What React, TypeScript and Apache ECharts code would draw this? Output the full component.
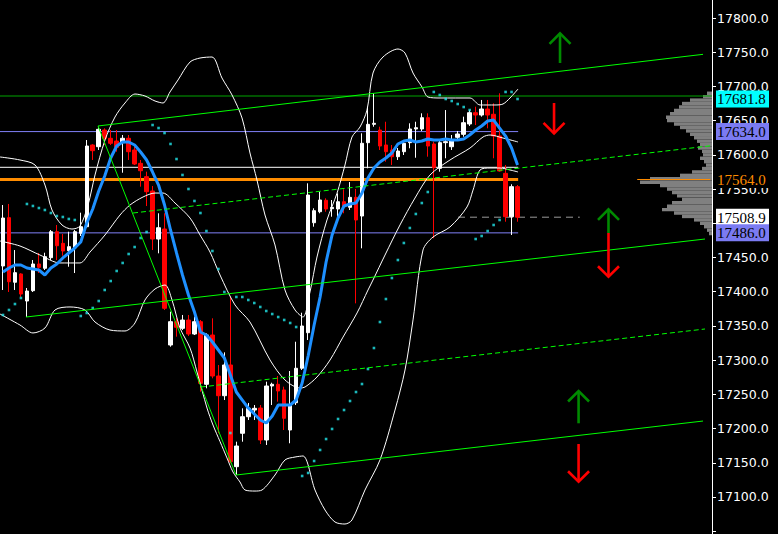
import React, { useEffect, useRef } from "react";
import * as echarts from "echarts";

// ---------- data ----------
const slotCount = 119; // 87 bars + empty future slots

// [open, close, low, high]
const candles: number[][] = [
  [17437.6, 17507.7, 17402.5, 17526.7], [17508.2, 17414.6, 17399.6, 17528.2], [17413.8, 17427.8, 17402.5, 17460.9],
  [17425.9, 17396.6, 17392.3, 17427.0], [17386.4, 17401.0, 17363.0, 17405.4], [17401.5, 17440.5, 17399.6, 17446.3],
  [17440.5, 17435.6, 17427.3, 17456.6], [17434.2, 17451.2, 17431.7, 17457.0], [17449.7, 17487.7, 17446.3, 17490.2],
  [17487.7, 17467.2, 17446.3, 17497.5], [17470.7, 17459.5, 17452.6, 17484.3], [17459.9, 17465.8, 17436.5, 17487.7],
  [17464.3, 17487.7, 17427.3, 17490.2], [17485.3, 17495.0, 17481.4, 17515.5], [17495.0, 17612.9, 17493.1, 17621.7],
  [17614.4, 17606.1, 17592.5, 17615.5], [17611.9, 17637.3, 17607.1, 17641.1], [17636.3, 17624.2, 17614.4, 17638.8],
  [17624.2, 17616.9, 17614.4, 17636.3], [17620.2, 17611.0, 17604.6, 17636.3], [17617.8, 17624.2, 17573.9, 17629.0],
  [17624.2, 17604.6, 17592.5, 17629.0], [17607.1, 17586.6, 17585.2, 17611.9], [17587.6, 17576.8, 17553.5, 17592.5],
  [17568.1, 17546.1, 17525.2, 17575.4], [17547.2, 17477.0, 17460.9, 17554.5], [17477.0, 17493.5, 17456.1, 17514.6],
  [17491.6, 17375.8, 17373.3, 17514.6], [17322.1, 17356.2, 17319.6, 17370.8], [17356.2, 17348.0, 17334.3, 17361.6],
  [17346.5, 17358.6, 17344.0, 17366.0], [17358.6, 17338.2, 17335.3, 17366.0], [17338.2, 17356.2, 17336.7, 17363.5],
  [17356.2, 17266.1, 17253.9, 17358.6], [17264.7, 17336.7, 17258.8, 17339.2], [17336.7, 17276.8, 17273.4, 17361.1],
  [17276.8, 17248.0, 17193.1, 17292.9], [17248.0, 17292.9, 17241.7, 17311.4], [17292.9, 17151.6, 17149.2, 17392.7],
  [17144.3, 17174.5, 17132.1, 17180.8], [17193.1, 17217.3, 17180.8, 17229.6], [17217.3, 17229.6, 17212.5, 17237.4],
  [17227.1, 17229.6, 17212.5, 17234.4], [17230.0, 17183.3, 17177.4, 17234.4], [17183.3, 17262.2, 17176.0, 17268.5],
  [17262.2, 17264.7, 17234.4, 17267.0], [17264.7, 17254.9, 17239.3, 17276.8], [17256.4, 17215.0, 17197.9, 17261.2],
  [17197.9, 17234.4, 17178.5, 17284.1], [17237.8, 17288.1, 17234.4, 17326.9], [17288.1, 17349.9, 17285.6, 17369.3],
  [17340.1, 17541.3, 17329.4, 17558.4], [17500.8, 17518.4, 17495.0, 17521.9], [17516.9, 17534.0, 17514.6, 17546.2],
  [17533.6, 17520.9, 17516.9, 17536.5], [17521.3, 17523.3, 17509.6, 17534.0], [17520.9, 17531.5, 17507.3, 17543.8],
  [17531.5, 17524.2, 17514.6, 17549.7], [17523.3, 17537.9, 17519.4, 17560.3], [17537.9, 17504.8, 17383.0, 17550.1],
  [17510.6, 17616.9, 17463.4, 17631.5], [17617.8, 17644.6, 17580.3, 17670.4], [17644.6, 17646.1, 17641.1, 17690.0],
  [17636.3, 17612.9, 17607.1, 17641.1], [17614.4, 17604.6, 17590.0, 17648.4], [17607.1, 17597.3, 17585.2, 17614.4],
  [17597.3, 17605.6, 17592.5, 17610.0], [17604.6, 17616.9, 17599.8, 17621.7], [17617.8, 17637.8, 17609.6, 17646.1],
  [17637.8, 17639.7, 17595.8, 17648.4], [17637.8, 17654.3, 17634.9, 17660.7], [17654.3, 17612.9, 17597.3, 17660.7],
  [17615.9, 17581.2, 17478.1, 17619.2], [17580.3, 17617.8, 17575.4, 17621.7], [17617.8, 17619.2, 17595.0, 17665.5],
  [17611.9, 17621.7, 17607.1, 17629.0], [17625.6, 17630.5, 17621.7, 17634.9], [17630.0, 17647.0, 17626.5, 17655.8],
  [17645.1, 17661.6, 17642.2, 17665.5], [17661.6, 17658.2, 17643.6, 17670.4], [17658.2, 17667.0, 17655.8, 17680.2],
  [17667.0, 17658.2, 17638.8, 17680.2], [17659.3, 17627.6, 17595.0, 17675.3], [17627.6, 17576.4, 17575.4, 17690.0],
  [17573.0, 17509.6, 17502.3, 17585.2], [17509.6, 17553.5, 17482.9, 17557.0], [17553.5, 17508.9, 17502.3, 17555.9],
];

const maValues: number[] = [
  17428.8, 17434.6, 17439.0, 17439.0, 17434.6, 17433.2, 17431.7, 17424.4, 17434.6, 17440.5,
  17449.3, 17456.6, 17463.9, 17472.6, 17500.4, 17520.9, 17547.2, 17569.1, 17595.4, 17612.9,
  17618.8, 17618.8, 17614.4, 17604.2, 17592.5, 17574.9, 17555.9, 17526.7, 17490.2, 17456.6,
  17424.4, 17395.2, 17370.3, 17341.1, 17336.7, 17326.5, 17314.8, 17303.1, 17278.3, 17253.4,
  17241.7, 17230.0, 17221.3, 17212.5, 17208.1, 17218.4, 17234.4, 17234.4, 17234.4, 17241.7,
  17266.6, 17306.0, 17351.3, 17392.3, 17443.4, 17482.9, 17507.7, 17525.3, 17528.2, 17529.6,
  17544.2, 17566.2, 17580.8, 17589.6, 17595.4, 17602.7, 17615.9, 17620.2, 17621.7, 17618.8,
  17620.2, 17623.2, 17621.7, 17621.7, 17623.2, 17621.7, 17621.7, 17623.2, 17629.0, 17636.3,
  17642.2, 17649.5, 17650.9, 17639.2, 17627.5, 17610.0, 17585.2,
];

const sarValues: number[] = [
  17366.0, 17373.3, 17382.0, 17390.8, 17528.2, 17525.3, 17522.3, 17519.4, 17515.0, 17510.6,
  17509.2, 17506.3, 17504.8, 17364.5, 17368.9, 17376.2, 17386.4, 17402.5, 17415.6, 17430.3,
  17442.0, 17455.1, 17465.3, 17478.5, 17487.3, 17643.6, 17639.2, 17631.9, 17615.9, 17593.9,
  17570.6, 17550.1, 17532.6, 17515.0, 17488.7, 17459.5, 17433.2, 17399.6, 17193.5, 17392.3,
  17392.3, 17387.9, 17383.5, 17377.7, 17371.8, 17367.4, 17363.0, 17358.7, 17354.3, 17348.4,
  17130.7, 17135.1, 17152.6, 17168.7, 17184.7, 17199.4, 17214.0, 17227.1, 17240.3, 17253.4,
  17265.1, 17287.0, 17317.7, 17355.7, 17389.3, 17420.0, 17446.3, 17471.2, 17493.1, 17513.6,
  17529.6, 17545.7, 17691.9, 17687.5, 17681.6, 17678.7, 17674.3, 17669.9, 17665.5, 17477.0,
  17481.4, 17488.7, 17497.5, 17504.8, 17691.9, 17691.9, 17681.6,
];

// Bollinger bands read as [bar index, price]
const bbUpper: number[][] = [
  [-0.5, 17596.9], [2.84, 17592.5], [5.35, 17585.2], [7.02, 17555.9], [8.19, 17519.4], [9.86, 17497.5],
  [11.53, 17491.6], [12.87, 17496.0], [14.21, 17526.7], [15.38, 17570.6], [17.05, 17621.7], [18.72, 17655.3],
  [20.39, 17675.8], [22.06, 17688.9], [23.73, 17686.0], [25.41, 17678.7], [26.74, 17675.8], [27.91, 17691.9],
  [29.25, 17709.4], [31.26, 17735.7], [32.93, 17741.5], [34.93, 17743.0], [36.6, 17712.3], [38.28, 17687.5],
  [39.95, 17653.9], [41.28, 17602.7], [42.45, 17563.2], [43.79, 17512.1], [45.46, 17468.3], [47.13, 17402.5],
  [48.81, 17373.3], [50.14, 17363.0], [51.31, 17399.6], [52.48, 17450.7], [54.15, 17504.8], [55.82, 17543.8],
  [57.16, 17585.2], [58.33, 17626.1], [59.67, 17640.7], [60.84, 17665.5], [61.84, 17719.6], [63.51, 17743.0],
  [66.02, 17754.7], [67.19, 17748.8], [68.53, 17719.6], [70.03, 17699.2], [71.04, 17684.5], [73.04, 17683.1],
  [78.06, 17683.1], [79.73, 17672.9], [82.23, 17672.9], [83.57, 17674.3], [84.74, 17683.1], [86.08, 17696.2],
];
const bbMiddle: number[][] = [
  [-0.5, 17474.1], [2.84, 17466.8], [6.18, 17453.6], [9.53, 17442.0], [12.87, 17442.0], [14.54, 17458.0],
  [17.05, 17482.9], [19.56, 17512.1], [21.23, 17526.7], [23.4, 17538.4], [25.41, 17544.2], [26.74, 17544.2],
  [28.75, 17529.6], [31.26, 17507.7], [32.93, 17482.9], [34.6, 17458.0], [36.27, 17424.4], [38.78, 17380.6],
  [41.28, 17355.7], [44.63, 17300.2], [47.13, 17271.0], [49.64, 17259.3], [50.48, 17260.7], [52.48, 17275.3],
  [54.66, 17300.2], [56.83, 17333.7], [59.17, 17368.9], [61.01, 17402.5], [61.84, 17417.1], [63.85, 17453.6],
  [66.35, 17497.5], [68.86, 17536.9], [71.37, 17570.6], [74.71, 17592.5], [78.06, 17610.0], [80.23, 17626.1],
  [81.4, 17629.0], [83.57, 17624.6], [86.08, 17618.8],
];
const bbLower: number[][] = [
  [-0.5, 17367.4], [2.84, 17351.3], [5.01, 17339.7], [7.02, 17347.0], [8.69, 17373.3], [11.2, 17377.7],
  [13.71, 17373.3], [15.38, 17355.7], [17.88, 17344.0], [20.39, 17342.6], [22.06, 17354.3], [23.73, 17387.9],
  [25.41, 17404.0], [27.08, 17409.8], [28.25, 17387.9], [29.58, 17347.0], [31.26, 17317.7], [32.43, 17282.6],
  [34.1, 17230.0], [35.1, 17205.2], [36.27, 17181.1], [37.44, 17157.0], [38.44, 17136.5], [39.61, 17121.9],
  [40.45, 17110.2], [42.12, 17108.7], [43.29, 17110.2], [45.46, 17132.1], [47.13, 17154.1], [48.81, 17158.4],
  [50.14, 17159.9], [52.15, 17110.2], [53.82, 17081.0], [55.49, 17063.4], [57.16, 17060.5], [58.33, 17066.4],
  [60.5, 17110.2], [63.01, 17154.1], [65.52, 17227.1], [67.19, 17285.6], [68.53, 17358.7], [70.2, 17461.0],
  [71.87, 17479.9], [74.71, 17494.6], [77.55, 17523.8], [78.56, 17548.6], [79.73, 17577.9], [81.4, 17580.8],
  [83.07, 17580.8], [84.74, 17577.9], [86.08, 17575.0],
];

// trend channel lines [bar index, price]
const channelTop = [[15.88, 17642.2], [117.0, 17746.9]];
const channelMidUpper = [[21.73, 17515.0], [118.5, 17613.5]];
const channelCenter = [[3.84, 17363.0], [117.33, 17477.0]];
const channelMidLower = [[33.09, 17260.7], [117.33, 17345.5]];
const channelBottom = [[38.94, 17132.1], [117.0, 17211.0]];
const swingLine = [[15.88, 17642.2], [38.94, 17132.1]];

// horizontal levels
const greenLevel = 17686.0;
const blueLevelHigh = 17634.0;
const whiteLevel = 17581.8;
const orangeLevel = 17564.0;
const blueLevelLow = 17486.0;
const bidLevel = 17508.9;
const levelEndIndex = 86.1;
const bidLineRange = [76.05, 96.4];
const pocRange = [106.0, 118.2];

// right-axis price tags
const tagValues = [17681.8, 17634.0, 17564.0, 17508.9, 17486.0];

// volume profile (price level, volume)
const profileLevels = [
  17690, 17685, 17680, 17675, 17670, 17665, 17660, 17655, 17650, 17645,
  17640, 17635, 17630, 17625, 17620, 17615, 17610, 17605, 17600, 17595,
  17590, 17585, 17580, 17575, 17570, 17565, 17560, 17555, 17550, 17545,
  17540, 17535, 17530, 17525, 17520, 17515, 17510, 17505, 17500, 17495,
  17490, 17485,
];
const profileVolumes = [
  5, 9, 22, 30, 33, 38, 42, 46, 45, 38,
  32, 26, 22, 18, 15, 12, 14, 10, 9, 12,
  8, 6, 10, 20, 32, 62, 72, 52, 45, 40,
  35, 30, 40, 45, 50, 38, 30, 18, 12, 8,
  5, 3,
];

// signal arrows [bar index, tail price, tip price]
const arrows = [
  [93.1, 17734.2, 17777.6],
  [92.1, 17675.8, 17631.5],
  [101.2, 17485.8, 17520.4],
  [101.2, 17485.8, 17421.9],
  [96.2, 17207.7, 17254.9],
  [96.2, 17177.4, 17122.3],
];

const yMin = 17050;
const yMax = 17800;
const yStep = 50;

// ---------- chart ----------
export default function App() {
  const ref = useRef<HTMLDivElement>(null);

  useEffect(() => {
    const chart = echarts.init(ref.current as HTMLDivElement, null, { renderer: "svg" });

    const lineSeries = (data: number[][], color: string, width: number, type: any, z: number, smooth: any = false) => ({
      type: "line",
      xAxisIndex: 1,
      yAxisIndex: 0,
      data,
      showSymbol: false,
      symbol: "none",
      smooth,
      silent: true,
      z,
      lineStyle: { color, width, type },
    });

    const option: any = {
      animation: false,
      backgroundColor: "#000000",
      grid: { left: 0, right: 66, top: 18, bottom: 2.8, containLabel: false },
      xAxis: [
        {
          type: "category",
          data: Array.from({ length: slotCount }, (_, i) => String(i)),
          boundaryGap: true,
          show: false,
        },
        { type: "value", min: -0.5, max: slotCount - 0.5, show: false },
        { type: "value", min: 0, max: 712, inverse: true, show: false },
      ],
      yAxis: {
        type: "value",
        position: "right",
        min: yMin,
        max: yMax,
        interval: yStep,
        axisLine: { show: false, onZero: false },
        axisTick: { show: true, inside: false, length: 4, lineStyle: { color: "#FFFFFF" } },
        splitLine: { show: false },
        axisLabel: {
          color: "#FFFFFF",
          fontFamily: "DejaVu Sans",
          fontSize: 12.5,
          margin: 5,
          formatter: (v: number) => (v === yMin ? "" : v.toFixed(1)),
        },
      },
      series: [
        // volume profile
        {
          type: "custom",
          xAxisIndex: 2,
          yAxisIndex: 0,
          z: 1,
          silent: true,
          data: profileLevels.map((p, i) => [profileVolumes[i], p]),
          encode: { x: 0, y: 1 },
          renderItem: (params: any, api: any) => {
            const v = api.value(0);
            const p = api.value(1);
            const a = api.coord([0, p + 2.5]);
            const b = api.coord([v, p - 2.5]);
            return {
              type: "rect",
              shape: { x: b[0], y: a[1], width: a[0] - b[0], height: b[1] - a[1] },
              style: { fill: "#808080" },
            };
          },
        },
        // level lines
        lineSeries([[-0.5, greenLevel], [slotCount - 0.5, greenLevel]], "#00A400", 1.2, "solid", 2),
        lineSeries([[-0.5, blueLevelHigh], [levelEndIndex, blueLevelHigh]], "#8080F8", 1, "solid", 2),
        lineSeries([[-0.5, whiteLevel], [levelEndIndex, whiteLevel]], "#FFFFFF", 1, "solid", 2),
        lineSeries([[-0.5, orangeLevel], [levelEndIndex, orangeLevel]], "#FF8C00", 3, "solid", 2),
        lineSeries([[pocRange[0], orangeLevel], [pocRange[1], orangeLevel]], "#FF8C00", 1, "solid", 3),
        lineSeries([[-0.5, blueLevelLow], [levelEndIndex, blueLevelLow]], "#8080F8", 1, "solid", 2),
        lineSeries([[bidLineRange[0], bidLevel], [bidLineRange[1], bidLevel]], "#9A9A9A", 1, [7, 5], 2),
        // candles
        {
          type: "candlestick",
          xAxisIndex: 0,
          yAxisIndex: 0,
          data: candles,
          barWidth: 4,
          z: 3,
          silent: true,
          itemStyle: {
            color: "#FFFFFF",
            color0: "#FF0000",
            borderColor: "#FFFFFF",
            borderColor0: "#FF0000",
            borderColorDoji: "#FFFFFF",
            borderWidth: 1,
          },
        },
        // bollinger bands
        lineSeries(bbUpper, "#FFFFFF", 1, "solid", 4, 0.3),
        lineSeries(bbMiddle, "#FFFFFF", 1, "solid", 4, 0.3),
        lineSeries(bbLower, "#FFFFFF", 1, "solid", 4, 0.3),
        // moving average
        {
          type: "line",
          xAxisIndex: 0,
          yAxisIndex: 0,
          data: maValues,
          showSymbol: false,
          symbol: "none",
          silent: true,
          z: 5,
          lineStyle: { color: "#1E90FF", width: 3 },
        },
        // parabolic SAR
        {
          type: "scatter",
          xAxisIndex: 0,
          yAxisIndex: 0,
          data: sarValues,
          symbol: "rect",
          symbolSize: 2.6,
          silent: true,
          z: 5,
          itemStyle: { color: "#22E6EA" },
        },
        // channel
        lineSeries(channelTop, "#00FF00", 1, "solid", 6),
        lineSeries(channelMidUpper, "#00FF00", 1, [5, 3], 6),
        lineSeries(channelCenter, "#00FF00", 1, "solid", 6),
        lineSeries(channelMidLower, "#00FF00", 1, [5, 3], 6),
        lineSeries(channelBottom, "#00FF00", 1, "solid", 6),
        lineSeries(swingLine, "#00FF00", 1, "solid", 6),
        // arrows
        {
          type: "custom",
          xAxisIndex: 1,
          yAxisIndex: 0,
          z: 7,
          silent: true,
          data: arrows,
          encode: { x: 0, y: [1, 2] },
          renderItem: (params: any, api: any) => {
            const x = api.value(0);
            const tail = api.coord([x, api.value(1)]);
            const tip = api.coord([x, api.value(2)]);
            const up = api.value(2) > api.value(1);
            const color = up ? "#008A00" : "#FF0000";
            const d = up ? 1 : -1;
            const h = 10.5;
            return {
              type: "group",
              children: [
                {
                  type: "line",
                  shape: { x1: tail[0], y1: tail[1], x2: tip[0], y2: tip[1] },
                  style: { stroke: color, lineWidth: 2.6 },
                },
                {
                  type: "polyline",
                  shape: { points: [[tip[0] - h, tip[1] + d * h], [tip[0], tip[1]], [tip[0] + h, tip[1] + d * h]] },
                  style: { stroke: color, lineWidth: 2.6, fill: "none" },
                },
              ],
            };
          },
        },
      ],
    };

    chart.setOption(option);

    const tagStyles = [
      { bg: "#00FFFF", fg: "#000000" },
      { bg: "#7B7BF2", fg: "#000000" },
      { bg: "#000000", fg: "#FF8C00" },
      { bg: "#FFFFFF", fg: "#000000" },
      { bg: "#7B7BF2", fg: "#000000" },
    ];
    const graphics: any[] = [
      {
        type: "line",
        shape: { x1: 712.5, y1: 0, x2: 712.5, y2: 534 },
        style: { stroke: "#FFFFFF", lineWidth: 1 },
        z: 50,
      },
    ];
    tagValues.forEach((v, i) => {
      const py = chart.convertToPixel({ yAxisIndex: 0 } as any, v) as unknown as number;
      graphics.push({
        type: "rect",
        shape: { x: 716, y: py - 8.5, width: 53, height: 17 },
        style: { fill: tagStyles[i].bg },
        z: 60 + i,
      });
      graphics.push({
        type: "text",
        x: 717,
        y: py + 0.5,
        style: {
          text: v.toFixed(1),
          fill: tagStyles[i].fg,
          font: '15px "Liberation Serif"',
          align: "left",
          verticalAlign: "middle",
        },
        z: 60 + i,
      });
    });
    chart.setOption({ graphic: graphics });

    return () => chart.dispose();
  }, []);

  return (
    <div
      ref={ref}
      style={{ position: "fixed", left: 0, top: 0, width: 778, height: 534, background: "#000000" }}
    />
  );
}
